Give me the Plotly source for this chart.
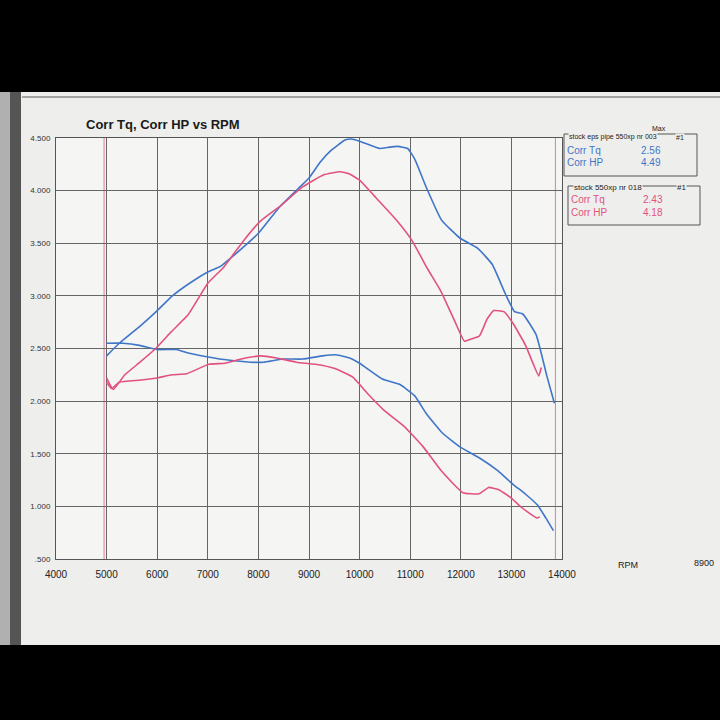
import plotly.graph_objects as go

# --- data ---
rpm_blue_hp = [5000, 5250, 5680, 5980, 6300, 6640, 7010, 7250, 7480, 8010, 8410, 8790, 9000, 9220, 9430,
               9710, 9830, 10000, 10400, 10550, 10750, 10950, 11090, 11310, 11620, 11980, 12340, 12620,
               12880, 13060, 13220, 13490, 13700, 13850]
blue_hp = [2.43, 2.55, 2.72, 2.85, 3.00, 3.12, 3.23, 3.28, 3.37, 3.60, 3.84, 4.02, 4.12, 4.27, 4.38,
           4.48, 4.49, 4.47, 4.40, 4.41, 4.42, 4.40, 4.30, 4.04, 3.72, 3.55, 3.45, 3.30,
           3.02, 2.85, 2.83, 2.63, 2.24, 1.98]

rpm_blue_tq = [5000, 5320, 5650, 5990, 6380, 6590, 7010, 7400, 7840, 8100, 8480, 8870, 9270, 9530, 9800,
               10000, 10450, 10790, 11090, 11320, 11630, 12000, 12370, 12730, 13030, 13270, 13520, 13680, 13830]
blue_tq = [2.55, 2.55, 2.53, 2.49, 2.49, 2.46, 2.42, 2.39, 2.37, 2.37, 2.40, 2.40, 2.43, 2.44, 2.41,
           2.36, 2.21, 2.16, 2.05, 1.88, 1.70, 1.56, 1.46, 1.34, 1.21, 1.12, 1.01, 0.89, 0.77]

rpm_pink_hp = [5000, 5130, 5360, 5660, 5970, 6280, 6610, 7000, 7310, 7700, 8040, 8450, 8860, 9290, 9610,
               9790, 10000, 10290, 10710, 11030, 11340, 11600, 11880, 12070, 12200, 12370, 12520, 12650,
               12850, 13030, 13280, 13540, 13590]
pink_hp = [2.22, 2.11, 2.25, 2.37, 2.50, 2.66, 2.82, 3.12, 3.27, 3.52, 3.71, 3.86, 4.03, 4.15, 4.18,
           4.16, 4.10, 3.95, 3.73, 3.53, 3.26, 3.05, 2.76, 2.57, 2.59, 2.62, 2.78, 2.86,
           2.85, 2.74, 2.53, 2.24, 2.32]

rpm_pink_tq = [5000, 5100, 5250, 5680, 5990, 6300, 6580, 7020, 7340, 7660, 8040, 8360, 8750, 9130, 9510,
               9860, 10180, 10490, 10880, 11250, 11610, 12040, 12360, 12550, 12740, 12970, 13200, 13500, 13560]
pink_tq = [2.18, 2.12, 2.18, 2.20, 2.22, 2.25, 2.26, 2.35, 2.36, 2.40, 2.43, 2.41, 2.37, 2.35, 2.31,
           2.23, 2.06, 1.91, 1.76, 1.57, 1.34, 1.13, 1.12, 1.18, 1.16, 1.09, 0.99, 0.89, 0.90]

y_ticks = [0.5, 1.0, 1.5, 2.0, 2.5, 3.0, 3.5, 4.0, 4.5]
y_ticktext = ['.500', '1.000', '1.500', '2.000', '2.500', '3.000', '3.500', '4.000', '4.500']
x_ticks = [4000, 5000, 6000, 7000, 8000, 9000, 10000, 11000, 12000, 13000, 14000]
x_ticktext = [str(v) for v in x_ticks]
run_marks = [4950, 13870]

legend_blue = ['stock eps pipe 550xp nr 003', '2.56', '4.49']
legend_pink = ['stock 550xp nr 018', '2.43', '4.18']

BLUE = '#3f76c8'
PINK = '#e2527f'
FONT = 'Liberation Sans, Arial'

# plot area in pixels
L, R, T, B = 56, 562, 138, 559


def px_x(p):
    return (p - L) / (R - L)


def px_y(p):
    return (B - p) / (B - T)


fig = go.Figure()

for xs, ys, col in [(rpm_blue_hp, blue_hp, BLUE), (rpm_blue_tq, blue_tq, BLUE),
                    (rpm_pink_hp, pink_hp, PINK), (rpm_pink_tq, pink_tq, PINK)]:
    fig.add_trace(
        go.Scatter(
            x=xs, y=ys, mode='lines',
            line=dict(color=col, width=1.6, shape='spline', smoothing=0.4),
            showlegend=False,
        )
    )

shapes = []
# photo background: black bands, dark paper edge, frame line
shapes.append(dict(type='rect', xref='paper', yref='paper', x0=px_x(0), x1=px_x(720),
                   y0=px_y(0), y1=px_y(92), fillcolor='black', line=dict(width=0), layer='below'))
shapes.append(dict(type='rect', xref='paper', yref='paper', x0=px_x(0), x1=px_x(720),
                   y0=px_y(645), y1=px_y(720), fillcolor='black', line=dict(width=0), layer='below'))
shapes.append(dict(type='rect', xref='paper', yref='paper', x0=px_x(0), x1=px_x(10),
                   y0=px_y(92), y1=px_y(645), fillcolor='#b0b0b0', line=dict(width=0), layer='below'))
shapes.append(dict(type='rect', xref='paper', yref='paper', x0=px_x(10), x1=px_x(21),
                   y0=px_y(92), y1=px_y(645), fillcolor='#555555', line=dict(width=0), layer='below'))
shapes.append(dict(type='line', xref='paper', yref='paper', x0=px_x(22), x1=px_x(720),
                   y0=px_y(97), y1=px_y(97), line=dict(color='#8a8a8a', width=1.5), layer='below'))

# start / end markers of the run
for m in run_marks:
    shapes.append(dict(type='line', xref='x', yref='y', x0=m, x1=m, y0=0.5, y1=4.5,
                       line=dict(color='#e8789a', width=1), layer='below'))

# legend boxes
shapes.append(dict(type='rect', xref='paper', yref='paper', x0=px_x(564), x1=px_x(697),
                   y0=px_y(134), y1=px_y(176), line=dict(color='#555', width=1), fillcolor='rgba(0,0,0,0)'))
shapes.append(dict(type='rect', xref='paper', yref='paper', x0=px_x(568), x1=px_x(700),
                   y0=px_y(186), y1=px_y(225), line=dict(color='#555', width=1), fillcolor='rgba(0,0,0,0)'))

annotations = []


def note(text, x, y, size, color='#222', anchor='left', bold=False, bg=None):
    if bold:
        text = '<b>' + text + '</b>'
    annotations.append(dict(text=text, xref='paper', yref='paper', x=px_x(x), y=px_y(y),
                            xanchor=anchor, yanchor='middle', showarrow=False,
                            font=dict(family=FONT, size=size, color=color),
                            bgcolor=bg, borderpad=0))


note('Corr Tq, Corr HP vs RPM', 85, 125, 13, '#1a1a1a', bold=True)
note('RPM', 617, 565, 9)
note('8900', 693, 563, 9)

note('Max', 651, 129, 7)
note(legend_blue[0], 568, 137, 7, bg='#eeeeec')
note('#1', 675, 137, 7, bg='#eeeeec')
note('Corr Tq', 566, 150, 10, BLUE)
note(legend_blue[1], 662, 150, 10, BLUE, anchor='right')
note('Corr HP', 566, 162, 10, BLUE)
note(legend_blue[2], 662, 162, 10, BLUE, anchor='right')

note(legend_pink[0], 573, 187, 8, bg='#eeeeec')
note('#1', 676, 187, 8, bg='#eeeeec')
note('Corr Tq', 570, 199, 10, PINK)
note(legend_pink[1], 664, 199, 10, PINK, anchor='right')
note('Corr HP', 570, 212, 10, PINK)
note(legend_pink[2], 664, 212, 10, PINK, anchor='right')

fig.update_layout(
    width=720,
    height=720,
    margin=dict(l=L, r=720 - R, t=T, b=720 - B),
    paper_bgcolor='#eeeeec',
    plot_bgcolor='#f5f5f3',
    showlegend=False,
    shapes=shapes,
    annotations=annotations,
    xaxis=dict(
        range=[4000, 14000],
        tickvals=x_ticks,
        ticktext=x_ticktext,
        showgrid=True, gridcolor='#666', gridwidth=1,
        showline=True, mirror=True, linecolor='#555', linewidth=1,
        zeroline=False, ticks='', ticklabelstandoff=6,
        tickfont=dict(family=FONT, size=10, color='#222'),
    ),
    yaxis=dict(
        range=[0.5, 4.5],
        tickvals=y_ticks,
        ticktext=y_ticktext,
        showgrid=True, gridcolor='#666', gridwidth=1,
        showline=True, mirror=True, linecolor='#555', linewidth=1,
        zeroline=False, ticks='', ticklabelstandoff=3,
        tickfont=dict(family=FONT, size=8, color='#333'),
    ),
)

# drop the default body margin so the 720px figure fills the window
fig.write_html('out.html', config={'displayModeBar': False},
               post_script="document.body.style.margin='0';")
